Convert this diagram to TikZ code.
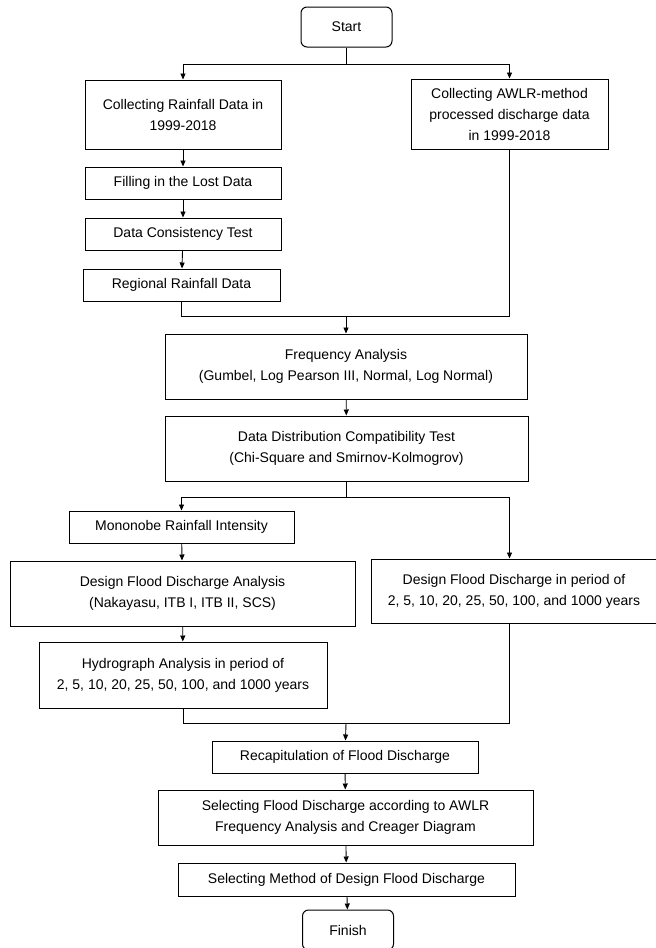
\documentclass[tikz,border=0pt]{standalone}
\usepackage{fontspec}
\setmainfont{Liberation Sans}
\usetikzlibrary{arrows.meta}

\begin{document}
\begin{tikzpicture} [x=1pt, y=-1pt,
  box/.style={draw, line width=1pt, align=center, inner sep=0pt, font=\fontsize{14}{21}\selectfont},
  term/.style={box, rounded corners=6pt, minimum width=91, minimum height=40},
  arr/.style={line width=.9pt, -{Triangle[length=6pt, width=5pt]}},
  ln/.style={line width=.9pt}]
\useasboundingbox[fill=white] (0,0) rectangle (656,948);

\node[term] (start) at (346.5,27) {Start};
\node[box, minimum width=196, minimum height=69] (rain) at (183,114.5) {Collecting Rainfall Data in\\1999-2018};
\node[box, minimum width=197, minimum height=70] (awlr) at (509.5,114) {Collecting AWLR-method\\processed discharge data\\in 1999-2018};
\node[box, minimum width=196, minimum height=32] (fill) at (183,183) {Filling in the Lost Data};
\node[box, minimum width=196, minimum height=32] (cons) at (183,234) {Data Consistency Test};
\node[box, minimum width=197, minimum height=32] (region) at (181.5,285) {Regional Rainfall Data};
\node[box, minimum width=362, minimum height=65] (freq) at (346,366.5) {Frequency Analysis\\(Gumbel, Log Pearson III, Normal, Log Normal)};
\node[box, minimum width=363, minimum height=65] (dist) at (346.5,448.5) {Data Distribution Compatibility Test\\(Chi-Square and Smirnov-Kolmogrov)};
\node[box, minimum width=225, minimum height=32] (mono) at (181.5,527) {Mononobe Rainfall Intensity};
\node[box, minimum width=345, minimum height=65] (dfa) at (182.5,593.5) {Design Flood Discharge Analysis\\(Nakayasu, ITB I, ITB II, SCS)};
\node[box, minimum width=286, minimum height=64] (dfp) at (514,591) {Design Flood Discharge in period of\\2, 5, 10, 20, 25, 50, 100, and 1000 years};
\node[box, minimum width=288, minimum height=66] (hydro) at (183,675) {Hydrograph Analysis in period of\\2, 5, 10, 20, 25, 50, 100, and 1000 years};
\node[box, minimum width=266, minimum height=32] (recap) at (345,757) {Recapitulation of Flood Discharge};
\node[box, minimum width=375, minimum height=55] (sel) at (345.5,817.5) {Selecting Flood Discharge according to AWLR\\Frequency Analysis and Creager Diagram};
\node[box, minimum width=337, minimum height=33] (method) at (346.5,879.5) {Selecting Method of Design Flood Discharge};
\node[term] (finish) at (348,930) {Finish};

% junctions
\coordinate (split1) at (346.5,64);
\coordinate (join1) at (346,316);
\coordinate (split2) at (346.5,497);
\coordinate (join2) at (346,723);

\draw[ln] (start) -- (split1);
\draw[arr] (split1) -| (rain.north);
\draw[arr] (split1) -| (awlr.north);
\draw[arr] (rain) -- (fill);
\draw[arr] (fill) -- (cons);
\draw[arr] (cons) -- (region);
\draw[ln] (region.south) |- (join1);
\draw[ln] (awlr.south) |- (join1);
\draw[arr] (join1) -- (freq);
\draw[arr] (freq) -- (dist);
\draw[ln] (dist) -- (split2);
\draw[arr] (split2) -| (mono.north);
\draw[arr] (split2) -| (dfp.north -| awlr.south);
\draw[arr] (mono) -- (dfa);
\draw[arr] (dfa) -- (hydro);
\draw[ln] (hydro.south) |- (join2);
\draw[ln] (dfp.south -| awlr.south) |- (join2);
\draw[arr] (join2) -- (recap);
\draw[arr] (recap) -- (sel);
\draw[arr] (sel) -- (method);
\draw[arr] (method) -- (finish);
\end{tikzpicture}
\end{document}
